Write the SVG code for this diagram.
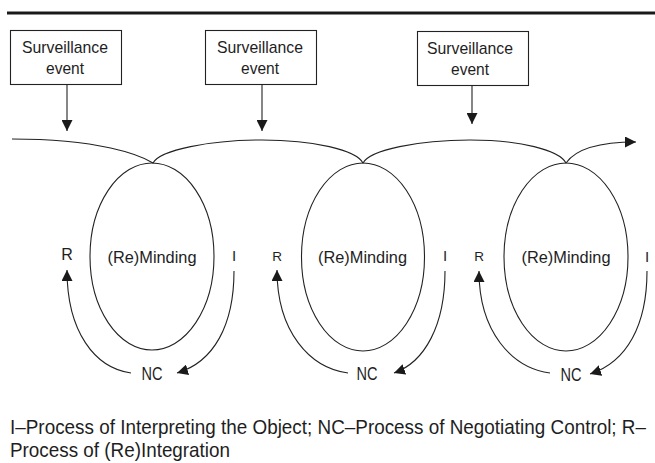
<svg xmlns="http://www.w3.org/2000/svg" width="655" height="463" viewBox="0 0 655 463">
<style>
.t{font-family:"Liberation Sans",Arial,sans-serif;fill:#1e1e1e}
.ln{fill:none;stroke:#222;stroke-width:1.1}
.box{fill:#fff;stroke:#222;stroke-width:1.1}
.ell{fill:none;stroke:#222;stroke-width:1.1}
.arr{fill:none;stroke:#222;stroke-width:1.1;marker-end:url(#ah)}
</style>
<defs>
<marker id="ah" markerUnits="userSpaceOnUse" markerWidth="11" markerHeight="11" refX="10" refY="5" orient="auto" viewBox="0 0 10 10">
<path d="M0,0 L10,5 L0,10 z" fill="#1a1a1a"/>
</marker>
</defs>
<rect x="7" y="11.5" width="648" height="3" fill="#1a1a1a"/>

<g id="box1">
<rect class="box" x="10.5" y="30.5" width="111" height="54"/>
<text class="t" x="65" y="53" font-size="17" text-anchor="middle" textLength="86" lengthAdjust="spacingAndGlyphs">Surveillance</text>
<text class="t" x="65" y="74" font-size="17" text-anchor="middle" textLength="38" lengthAdjust="spacingAndGlyphs">event</text>
</g>
<g id="box2">
<rect class="box" x="205.5" y="30.5" width="111" height="54"/>
<text class="t" x="260" y="53" font-size="17" text-anchor="middle" textLength="86" lengthAdjust="spacingAndGlyphs">Surveillance</text>
<text class="t" x="260" y="74" font-size="17" text-anchor="middle" textLength="38" lengthAdjust="spacingAndGlyphs">event</text>
</g>
<g id="box3">
<rect class="box" x="417.5" y="31.5" width="111" height="54"/>
<text class="t" x="470" y="54" font-size="17" text-anchor="middle" textLength="86" lengthAdjust="spacingAndGlyphs">Surveillance</text>
<text class="t" x="470" y="75" font-size="17" text-anchor="middle" textLength="38" lengthAdjust="spacingAndGlyphs">event</text>
</g>

<g id="mind1">
<ellipse class="ell" cx="152" cy="256.5" rx="62" ry="93.5"/>
<text class="t" x="152" y="263" font-size="17" text-anchor="middle" textLength="89" lengthAdjust="spacingAndGlyphs">(Re)Minding</text>
</g>
<g id="mind2">
<ellipse class="ell" cx="363" cy="257" rx="61.5" ry="94"/>
<text class="t" x="362.5" y="263" font-size="17" text-anchor="middle" textLength="89" lengthAdjust="spacingAndGlyphs">(Re)Minding</text>
</g>
<g id="mind3">
<ellipse class="ell" cx="566" cy="257" rx="62" ry="94"/>
<text class="t" x="566" y="263" font-size="17" text-anchor="middle" textLength="89" lengthAdjust="spacingAndGlyphs">(Re)Minding</text>
</g>

<g id="labels1">
<text class="t" x="67" y="260" font-size="16" text-anchor="middle">R</text>
<text class="t" x="234" y="261" font-size="15" text-anchor="middle">I</text>
<text class="t" x="152" y="380" font-size="18" text-anchor="middle" textLength="21" lengthAdjust="spacingAndGlyphs">NC</text>
</g>
<g id="labels2">
<text class="t" x="277" y="261" font-size="13.5" text-anchor="middle">R</text>
<text class="t" x="445" y="261" font-size="15" text-anchor="middle">I</text>
<text class="t" x="367" y="380" font-size="18" text-anchor="middle" textLength="21" lengthAdjust="spacingAndGlyphs">NC</text>
</g>
<g id="labels3">
<text class="t" x="479" y="261" font-size="13.5" text-anchor="middle">R</text>
<text class="t" x="647" y="262" font-size="15" text-anchor="middle">I</text>
<text class="t" x="571" y="381" font-size="18" text-anchor="middle" textLength="21" lengthAdjust="spacingAndGlyphs">NC</text>
</g>

<g id="connectors">
<path class="arr" d="M67,84 L67,131"/>
<path class="arr" d="M262,84 L262,131"/>
<path class="arr" d="M472,85 L472,124"/>
<path class="arr" d="M12,139 C100,139 140,155 153,163 C160,150 210,140 262,140 C314,140 356,150 363,163 C370,150 418,140 470,140 C520,140 559,150 566,163 C575,150 598,142 636,142"/>
<path class="arr" d="M234,271 C234,325 214,362 177,373"/>
<path class="arr" d="M131,373 C95,368 67,332 67,270"/>
<path class="arr" d="M445,271 C445,325 425,362 394,373"/>
<path class="arr" d="M348,373 C310,368 277,332 277,270"/>
<path class="arr" d="M647,271 C647,325 627,362 590,374"/>
<path class="arr" d="M550,373 C512,368 479,332 479,271"/>
</g>

<g id="caption">
<text class="t" transform="translate(10,434) scale(0.8,1)" x="0" y="0" font-size="20.5" textLength="795" lengthAdjust="spacingAndGlyphs">I–Process of Interpreting the Object; NC–Process of Negotiating Control; R–</text>
<text class="t" transform="translate(10,457) scale(0.8,1)" x="0" y="0" font-size="20.5" textLength="275" lengthAdjust="spacingAndGlyphs">Process of (Re)Integration</text>
</g>
</svg>
